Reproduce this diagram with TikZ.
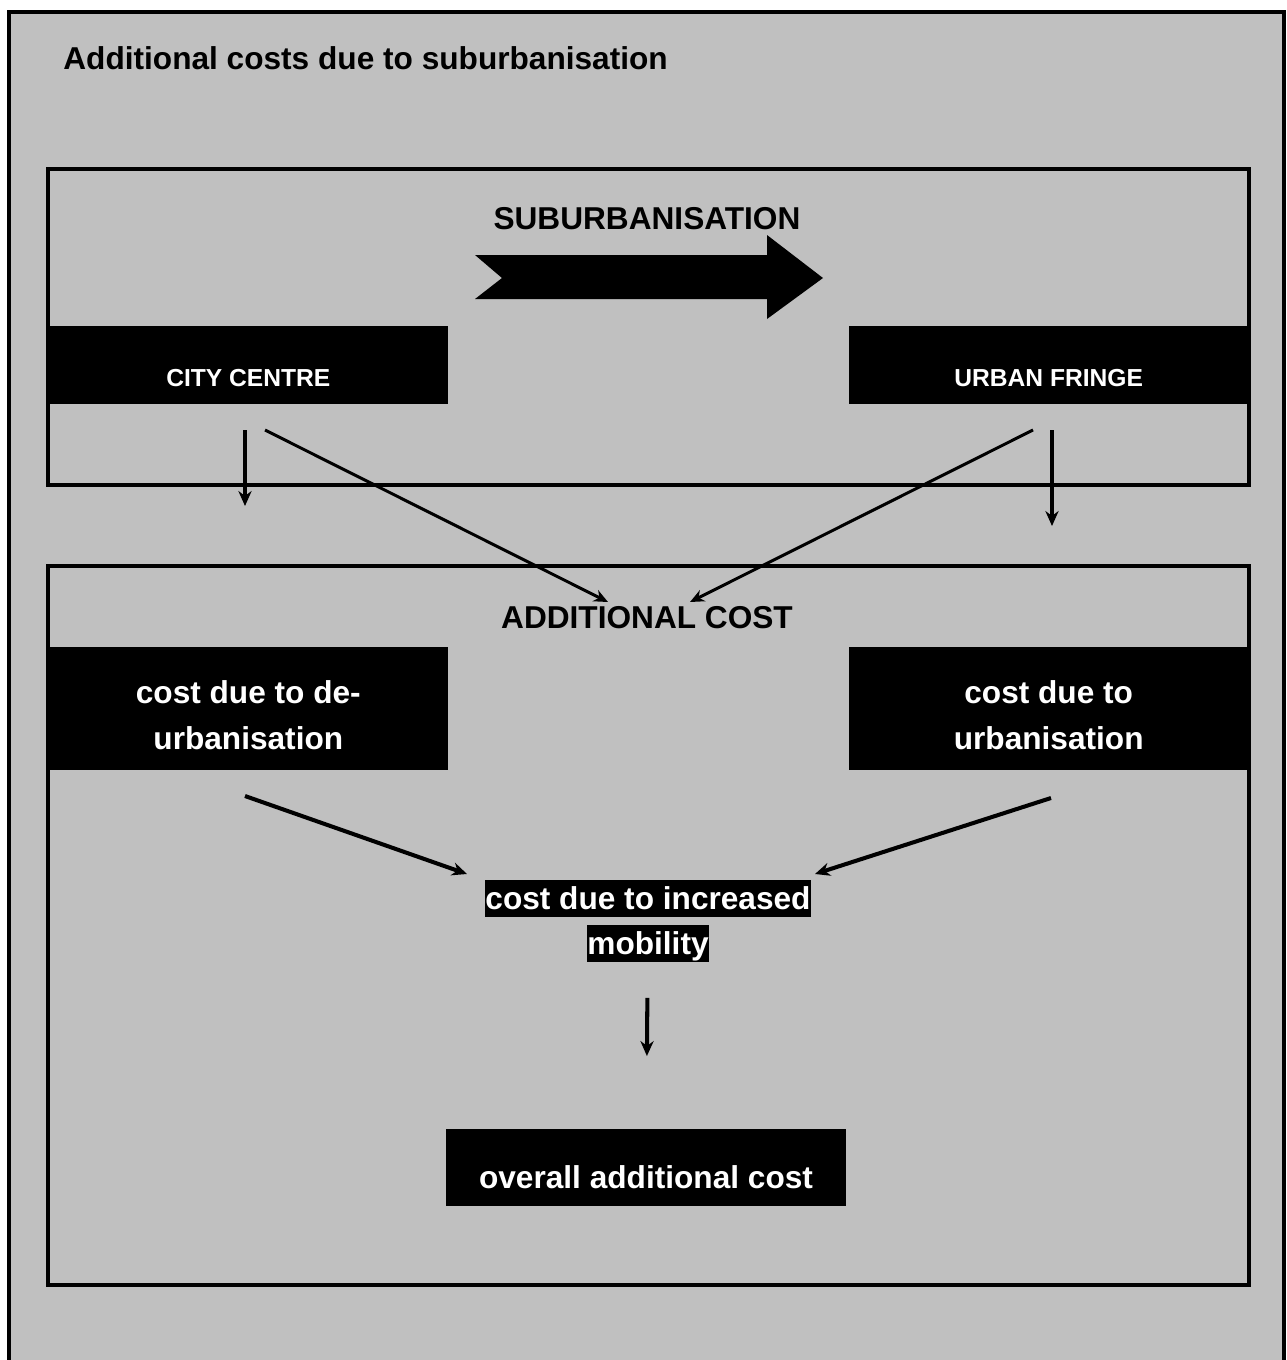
\documentclass[tikz,border=0pt]{standalone}
\usepackage{fontspec}
\setmainfont{Liberation Sans}
\usetikzlibrary{arrows.meta,positioning,calc}
\definecolor{panelGray}{RGB}{192,192,192}
\definecolor{boxBlack}{RGB}{0,0,0}
\tikzset{
  frame/.style={line width=2.6pt},
  heading/.style={font=\bfseries\fontsize{18}{22}\selectfont, inner sep=0pt},
  place/.style={fill=boxBlack, text=white, inner sep=0pt, minimum width=8cm, text height=1.2cm, text depth=0.36cm, font=\bfseries\fontsize{14}{17}\selectfont},
  cost/.style={fill=boxBlack, text=white, align=center, inner sep=0pt, minimum width=8cm, text height=2.04cm, text depth=0.42cm, font=\bfseries\fontsize{18}{26}\selectfont},
  total/.style={fill=boxBlack, text=white, inner sep=0pt, minimum width=8cm, text height=1.18cm, text depth=0.36cm, font=\bfseries\fontsize{18}{22}\selectfont},
  mobility/.style={text=white, align=center, inner sep=0pt, font=\bfseries\fontsize{18}{26}\selectfont},
  feed/.style={-{Stealth[length=8pt,width=7pt]}, line width=1.7pt},
  flow/.style={-{Stealth[length=8.5pt,width=7.5pt]}, line width=2.3pt}
}
\newcommand{\hilite}[1]{{\setlength{\fboxsep}{0.5pt}\colorbox{boxBlack}{\rule[-0.21em]{0pt}{1.12em}#1}}}

\begin{document}
\begin{tikzpicture}[x=0.02cm, y=-0.02cm]
  \useasboundingbox (0,0) rectangle (1286,1360);
  % background panel
  \fill[panelGray] (9,12) rectangle (1286,1360);
  \draw[line width=2pt] (9,1360) -- (9,12) -- (1284,12) -- (1284,1360);

  \node[heading, anchor=base west] (title) at (63,69) {Additional costs due to suburbanisation};

  % upper part
  \draw[frame] (48,169) rectangle (1249,485);
  \node[heading, anchor=base] (sub) at (647,229) {SUBURBANISATION};
  \fill[boxBlack] (475,255) -- (767,255) -- (767,235) -- (823,278) -- (767,319)
    -- (767,299) -- (475,299) -- (502,278) -- cycle;
  \node[place, anchor=north west] (city) at (48,326) {CITY CENTRE};
  \node[place, anchor=north east] (fringe) at (1249,326) {URBAN FRINGE};

  % lower part
  \draw[frame] (48,566) rectangle (1249,1285);
  \node[heading, anchor=base] (addcost) at (647,628) {ADDITIONAL COST};
  \node[cost, anchor=north west] (deurb) at (48,647) {cost due to de-\\urbanisation};
  \node[cost, anchor=north east] (urb) at (1249,647) {cost due to\\urbanisation};
  \node[mobility] (mob) at (648,921) {\hilite{cost due to increased}\\\hilite{mobility}};
  \node[total, anchor=north] (overall) at (646,1129) {overall additional cost};

  % arrow ends
  \coordinate (cityA) at (245,430);
  \coordinate (cityAend) at (245,506);
  \coordinate (cityB) at (265,430);
  \coordinate (addL) at (608,602);
  \coordinate (fringeB) at (1033,430);
  \coordinate (addR) at (690,602);
  \coordinate (fringeA) at (1052,430);
  \coordinate (fringeAend) at (1052,526);
  \coordinate (deurbOut) at (245,796);
  \coordinate (mobL) at (467,874);
  \coordinate (urbOut) at (1051,798);
  \coordinate (mobR) at (815,874);

  \draw[flow] (cityA) -- (cityAend);
  \draw[feed] (cityB) -- (addL);
  \draw[feed] (fringeB) -- (addR);
  \draw[flow] (fringeA) -- (fringeAend);
  \draw[flow] (deurbOut) -- (mobL);
  \draw[flow] (urbOut) -- (mobR);
  \draw[flow, shorten <=0.7cm, shorten >=1.46cm] (mob) -- (overall);
\end{tikzpicture}
\end{document}
